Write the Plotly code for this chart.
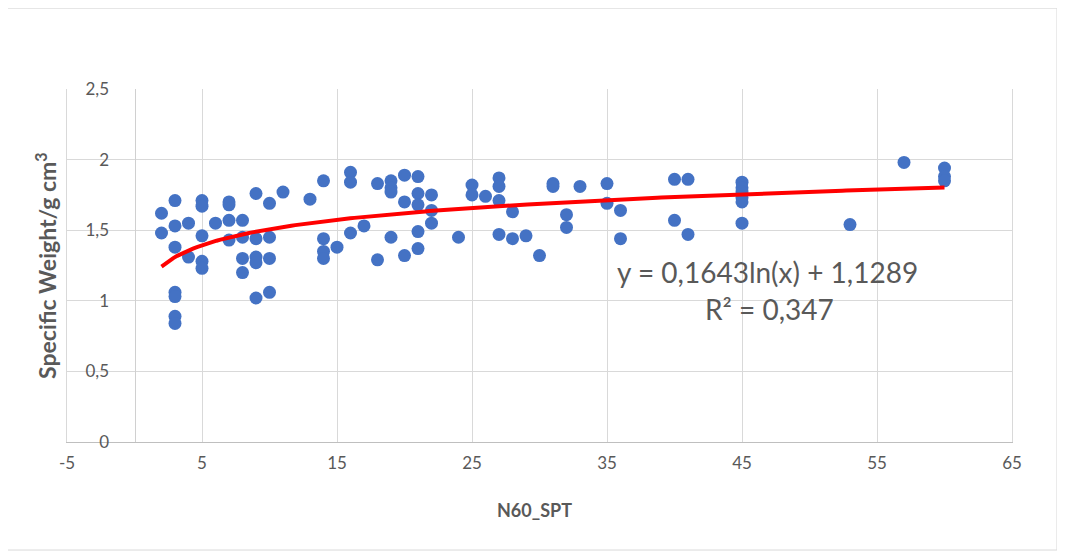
import numpy as np
import plotly.graph_objects as go

# N60_SPT values and specific weights
n60 = [2, 2,
       3, 3, 3, 3, 3, 3, 3,
       4, 4,
       5, 5, 5, 5, 5,
       6,
       7, 7, 7, 7,
       8, 8, 8, 8,
       9, 9, 9, 9, 9,
       10, 10, 10, 10,
       11, 13,
       14, 14, 14, 14,
       15,
       16, 16, 16,
       17,
       18, 18,
       19, 19, 19, 19,
       20, 20, 20,
       21, 21, 21, 21, 21,
       22, 22, 22,
       24,
       25, 25,
       26,
       27, 27, 27, 27,
       28, 28,
       29, 30,
       31, 31,
       32, 32,
       33,
       35, 35,
       36, 36,
       40, 40,
       41, 41,
       45, 45, 45, 45, 45, 45,
       53, 57,
       60, 60, 60]
weight = [1.62, 1.48,
          1.71, 1.53, 1.38, 1.06, 1.03, 0.89, 0.84,
          1.55, 1.31,
          1.71, 1.67, 1.46, 1.28, 1.23,
          1.55,
          1.70, 1.68, 1.57, 1.43,
          1.57, 1.45, 1.30, 1.20,
          1.76, 1.44, 1.31, 1.27, 1.02,
          1.69, 1.45, 1.30, 1.06,
          1.77, 1.72,
          1.85, 1.44, 1.35, 1.30,
          1.38,
          1.91, 1.84, 1.48,
          1.53,
          1.83, 1.29,
          1.85, 1.80, 1.77, 1.45,
          1.89, 1.70, 1.32,
          1.88, 1.76, 1.68, 1.49, 1.37,
          1.75, 1.64, 1.55,
          1.45,
          1.82, 1.75,
          1.74,
          1.87, 1.81, 1.71, 1.47,
          1.63, 1.44,
          1.46, 1.32,
          1.83, 1.81,
          1.61, 1.52,
          1.81,
          1.83, 1.69,
          1.64, 1.44,
          1.86, 1.57,
          1.86, 1.47,
          1.84, 1.80, 1.77, 1.73, 1.70, 1.55,
          1.54, 1.98,
          1.94, 1.88, 1.85]

# logarithmic trendline parameters (from the chart's equation)
trend_a = 0.1643
trend_b = 1.1289
trend_x_min = 2
trend_x_max = 60

x_tickvals = [-5, 5, 15, 25, 35, 45, 55, 65]
x_ticktext = ["-5", "5", "15", "25", "35", "45", "55", "65"]
y_tickvals = [0, 0.5, 1, 1.5, 2, 2.5]
y_ticktext = ["0", "0,5", "1", "1,5", "2", "2,5"]

eq_text = "y = 0,1643ln(x) + 1,1289"
r2_text = "R² = 0,347"
x_title = "<b>N60_SPT</b>"
y_title = "<b>Specific Weight/g cm<sup>3</sup></b>"

FONT = "Lato"
TXT = "#595959"
GRID = "#D9D9D9"

tx = np.linspace(trend_x_min, trend_x_max, 200)
ty = trend_a * np.log(tx) + trend_b

fig = go.Figure()
fig.add_trace(go.Scatter(x=n60, y=weight, mode="markers",
                         marker=dict(color="#4472C4", size=13, line=dict(width=0)),
                         showlegend=False))
fig.add_trace(go.Scatter(x=tx, y=ty, mode="lines",
                         line=dict(color="#FF0000", width=4),
                         showlegend=False))
fig.add_trace(go.Scatter(x=[None], y=[None], yaxis="y2", showlegend=False))

fig.update_layout(
    width=1065, height=558,
    margin=dict(l=59, r=61, t=81, b=124, autoexpand=False),
    paper_bgcolor="white", plot_bgcolor="white",
    font=dict(family=FONT, color=TXT, size=17),
    xaxis=dict(range=[-5, 65], tickvals=x_tickvals, ticktext=x_ticktext,
               showgrid=True, gridcolor=GRID, gridwidth=1,
               zeroline=False,
               showline=True, linecolor="#BFBFBF", linewidth=1,
               ticks="outside", ticklen=6, tickcolor="rgba(0,0,0,0)",
               tickfont=dict(size=17, color=TXT, family=FONT),
               automargin=False),
    yaxis=dict(range=[0, 2.5], tickvals=y_tickvals,
               showgrid=True, gridcolor=GRID, gridwidth=1, zeroline=False,
               showline=True, mirror=True, linecolor=GRID, linewidth=1,
               showticklabels=False, automargin=False),
    yaxis2=dict(overlaying="y", anchor="free", position=5/70,
                range=[0, 2.5], tickvals=y_tickvals, ticktext=y_ticktext,
                showgrid=False, zeroline=False,
                showline=True, linecolor="#D0D0D0", linewidth=1,
                ticks="outside", ticklen=22, tickcolor="rgba(0,0,0,0)",
                tickfont=dict(size=17, color=TXT, family=FONT),
                automargin=False),
)

# axis titles
fig.add_annotation(x=0.495, y=-0.23, xref="paper", yref="paper", text=x_title,
                   showarrow=False, font=dict(size=18, color=TXT, family=FONT))
fig.add_annotation(x=-0.041, y=0.501, xref="paper", yref="paper", text=y_title,
                   textangle=-90, showarrow=False, font=dict(size=23, color=TXT, family=FONT))

# trendline equation labels
fig.add_annotation(x=46.9, y=1.204, xref="x", yref="y", text=eq_text, showarrow=False,
                   font=dict(size=28, color=TXT, family=FONT))
fig.add_annotation(x=47.0, y=0.94, xref="x", yref="y", text=r2_text, showarrow=False,
                   font=dict(size=28, color=TXT, family=FONT))

# outer chart border
fig.add_shape(type="rect", xref="paper", yref="paper",
              x0=-0.0635, x1=1.0476, y0=-0.306, y1=1.229,
              line=dict(color="#D9D9D9", width=1), fillcolor="rgba(0,0,0,0)", layer="below")

fig.write_html("out.html")
